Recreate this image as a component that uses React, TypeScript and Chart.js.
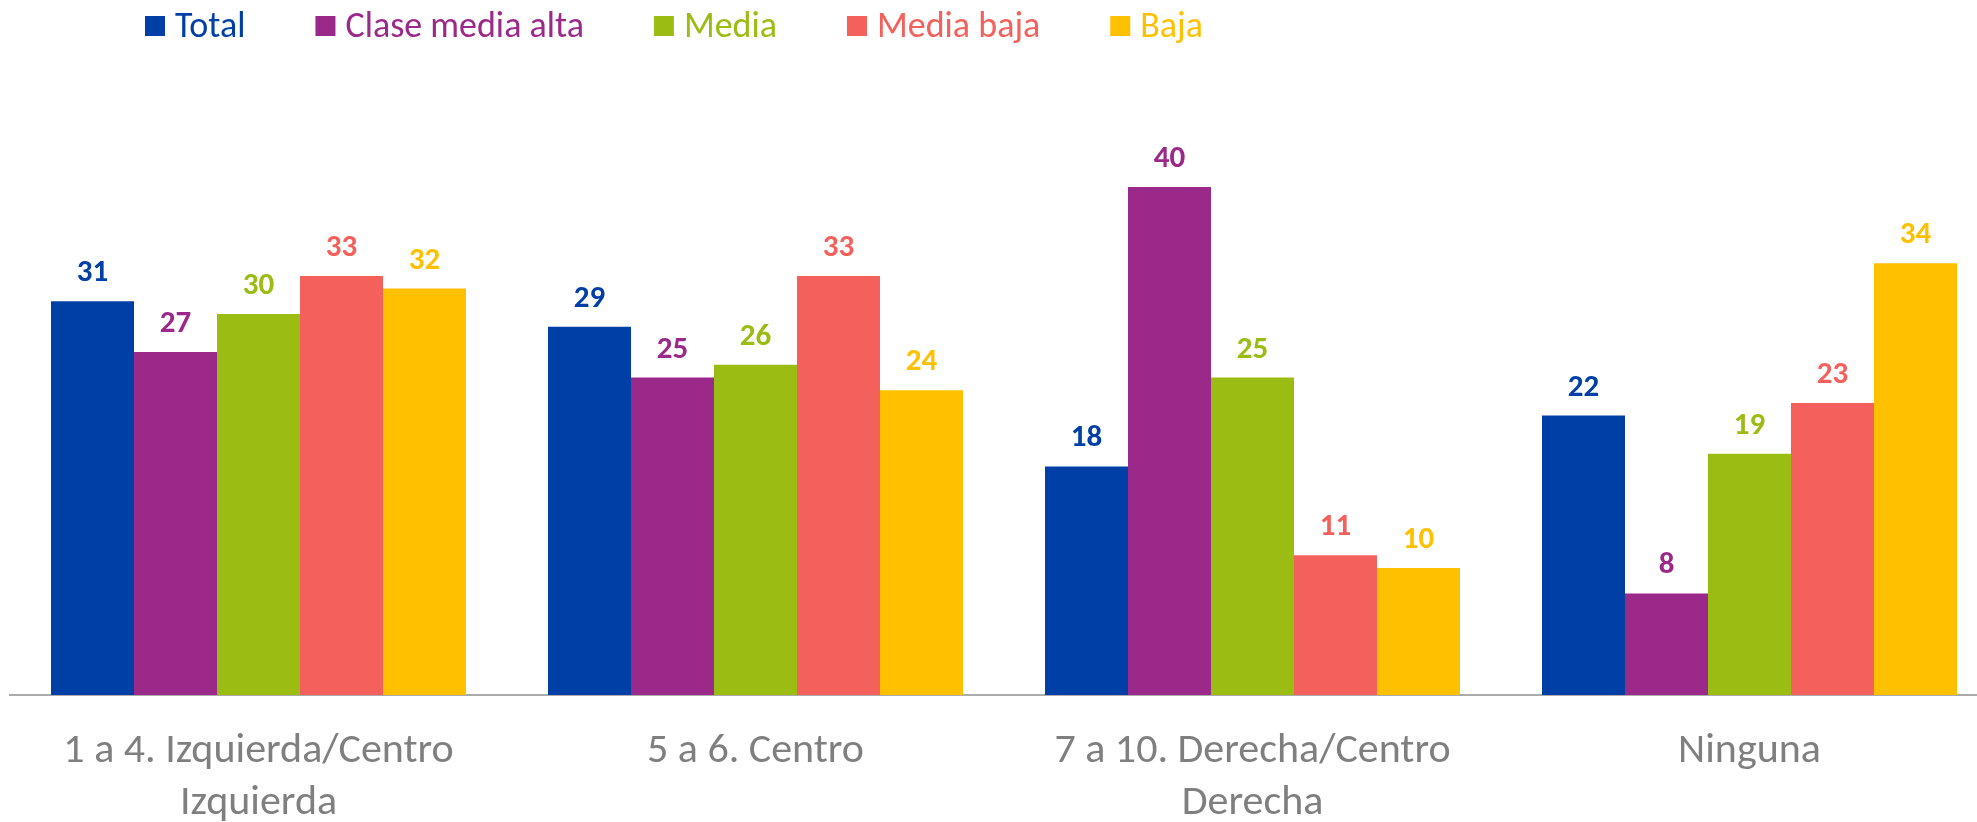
import React, { useEffect, useRef } from "react";
import { Chart, registerables } from "chart.js";

Chart.register(...registerables);

const categories: string[][] = [
  ["1 a 4. Izquierda/Centro", "Izquierda"],
  ["5 a 6. Centro"],
  ["7 a 10. Derecha/Centro", "Derecha"],
  ["Ninguna"],
];
const seriesNames = ["Total", "Clase media alta", "Media", "Media baja", "Baja"];
const seriesColors = ["#003FA6", "#9B2989", "#9BBC13", "#F4615D", "#FFC000"];
const total = [31, 29, 18, 22];
const claseMediaAlta = [27, 25, 40, 8];
const media = [30, 26, 25, 19];
const mediaBaja = [33, 33, 11, 23];
const baja = [32, 24, 10, 34];
const seriesValues = [total, claseMediaAlta, media, mediaBaja, baja];

const FONT = "Carlito, Lato, 'Open Sans', sans-serif";

const legendPlugin = {
  id: "customLegend",
  afterDraw(chart: any) {
    const ctx = chart.ctx;
    ctx.save();
    ctx.font = `36px ${FONT}`;
    ctx.textBaseline = "middle";
    ctx.textAlign = "left";
    let x = 145;
    const boxTop = 16;
    const box = 20;
    const cy = 26;
    chart.data.datasets.forEach((ds: any) => {
      ctx.fillStyle = ds.backgroundColor;
      ctx.fillRect(x, boxTop, box, box);
      x += box + 10;
      ctx.fillText(ds.label, x, cy + 2);
      x += ctx.measureText(ds.label).width + 70;
    });
    ctx.restore();
  },
};

const valueLabelPlugin = {
  id: "valueLabels",
  afterDatasetsDraw(chart: any) {
    const ctx = chart.ctx;
    ctx.save();
    ctx.font = `bold 31px ${FONT}`;
    ctx.textAlign = "center";
    ctx.textBaseline = "alphabetic";
    chart.data.datasets.forEach((ds: any, i: number) => {
      const meta = chart.getDatasetMeta(i);
      ctx.fillStyle = ds.backgroundColor;
      meta.data.forEach((bar: any, j: number) => {
        ctx.fillText(String(ds.data[j]), bar.x, bar.y - 20);
      });
    });
    ctx.restore();
  },
};

export default function App() {
  const canvasRef = useRef<HTMLCanvasElement | null>(null);

  useEffect(() => {
    if (!canvasRef.current) return;
    const chart = new Chart(canvasRef.current, {
      type: "bar",
      data: {
        labels: categories,
        datasets: seriesNames.map((name, i) => ({
          label: name,
          data: seriesValues[i],
          backgroundColor: seriesColors[i],
          borderWidth: 0,
          categoryPercentage: 0.835,
          barPercentage: 1,
        })),
      },
      options: {
        responsive: false,
        animation: false,
        layout: { padding: { left: 10, right: 10, top: 60, bottom: 0 } },
        plugins: {
          legend: { display: false },
          tooltip: { enabled: false },
        },
        scales: {
          x: {
            grid: { display: false, drawTicks: false },
            border: { display: true, color: "#ABABAB", width: 2 },
            ticks: {
              color: "#7F7F7F",
              font: { family: FONT, size: 42, lineHeight: 1.25 },
              padding: 30,
              maxRotation: 0,
              autoSkip: false,
            },
            afterFit: (scale: any) => {
              scale.height = 127;
            },
          },
          y: {
            display: false,
            min: 0,
            max: 50,
          },
        },
      },
      plugins: [legendPlugin, valueLabelPlugin],
    });
    return () => chart.destroy();
  }, []);

  return (
    <div
      style={{
        position: "fixed",
        left: 0,
        top: 0,
        width: 1977,
        height: 822,
        overflow: "hidden",
        background: "#fff",
      }}
    >
      <canvas
        ref={canvasRef}
        width={2008}
        height={822}
        style={{ display: "block", width: 2008, height: 822 }}
      />
    </div>
  );
}
